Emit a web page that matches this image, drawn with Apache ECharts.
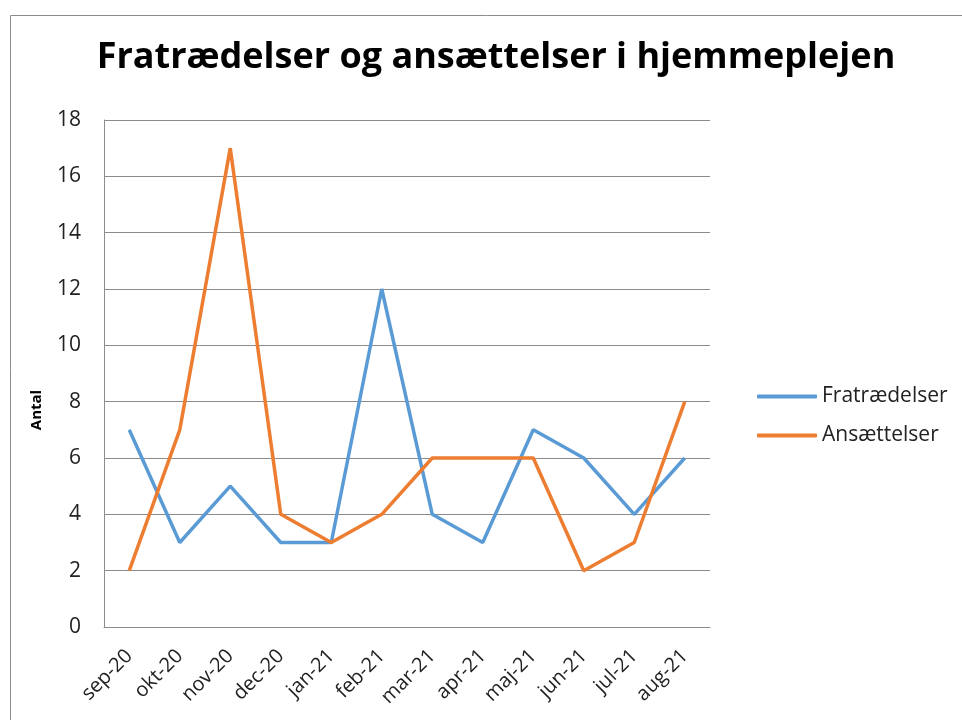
<!DOCTYPE html>
<html><head><meta charset="utf-8">
<script src="https://cdn.jsdelivr.net/npm/echarts@6/dist/echarts.min.js"></script>
<style>html,body{margin:0;padding:0;background:#fff}#c{width:962px;height:720px}</style>
</head><body><div id="c"></div>
<script>
const categories = ['sep-20','okt-20','nov-20','dec-20','jan-21','feb-21','mar-21','apr-21','maj-21','jun-21','jul-21','aug-21'];
const fratraedelser = [7,3,5,3,3,12,4,3,7,6,4,6];
const ansaettelser = [2,7,17,4,3,4,6,6,6,2,3,8];
const titleText = 'Fratrædelser og ansættelser i hjemmeplejen';
const yAxisName = 'Antal';

const chart = echarts.init(document.getElementById('c'));
const font = '"Open Sans", "Noto Sans", sans-serif';
chart.setOption({
  animation: false,
  title: {text: titleText, left: 491, top: 35, textAlign: 'center',
    textStyle: {fontFamily: font, fontSize: 36, fontWeight: 'bold', color: '#000'}},
  graphic: [
    {type: 'rect', shape: {x: 10.5, y: 15.5, width: 1000, height: 800},
      style: {fill: 'none', stroke: '#8c8c8c', lineWidth: 1}, silent: true},
    {type: 'text', x: 37, y: 410, rotation: Math.PI / 2,
      style: {text: yAxisName, fontFamily: font, fontSize: 15, fontWeight: 'bold', fill: '#000',
        align: 'center', verticalAlign: 'middle'}, silent: true}
  ],
  grid: {left: 104, right: 252, top: 120, bottom: 93, containLabel: false},
  legend: {orient: 'vertical', left: 752, top: 381, itemWidth: 60, itemHeight: 4, itemGap: 18,
    icon: 'roundRect',
    textStyle: {fontFamily: font, fontSize: 21, color: '#222'},
    data: ['Fratrædelser', 'Ansættelser']},
  xAxis: {type: 'category', data: categories, boundaryGap: true,
    axisLine: {lineStyle: {color: '#8c8c8c'}}, axisTick: {show: false},
    axisLabel: {rotate: 45, fontFamily: font, fontSize: 20, color: '#222', margin: 26, interval: 0}},
  yAxis: {type: 'value', min: 0, max: 18, interval: 2,
    axisLine: {show: true, lineStyle: {color: '#8c8c8c'}}, axisTick: {show: false},
    axisLabel: {fontFamily: font, fontSize: 21, color: '#222', margin: 23},
    splitLine: {lineStyle: {color: '#8c8c8c', width: 1}}},
  series: [
    {name: 'Fratrædelser', type: 'line', data: fratraedelser, symbol: 'none',
      lineStyle: {width: 3.5, color: '#5B9BD5'}, itemStyle: {color: '#5B9BD5'}},
    {name: 'Ansættelser', type: 'line', data: ansaettelser, symbol: 'none',
      lineStyle: {width: 3.5, color: '#ED7D31'}, itemStyle: {color: '#ED7D31'}}
  ]
});
</script></body></html>
